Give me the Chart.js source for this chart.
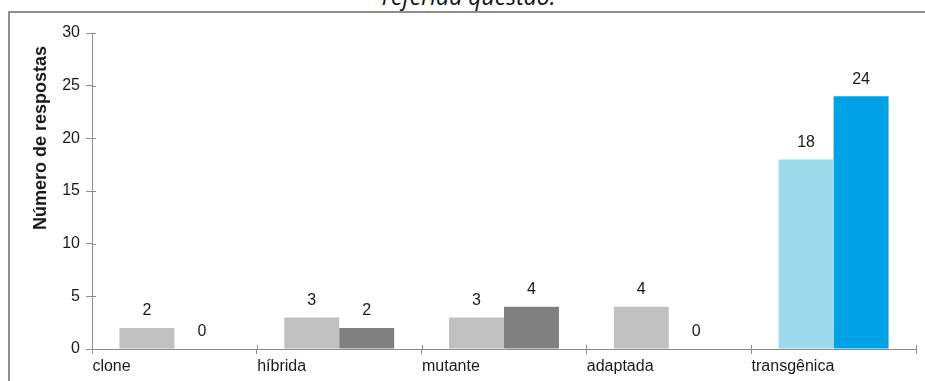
<!DOCTYPE html>
<html lang="pt">
<head>
<meta charset="utf-8">
<title>Número de respostas por categoria</title>
<script src="https://cdn.jsdelivr.net/npm/chart.js@4/dist/chart.umd.min.js"></script>
<style>
  html, body { margin: 0; padding: 0; background: #fff; }
  #page { position: relative; width: 925px; height: 381px; overflow: hidden; }
  #caption {
    position: absolute; left: 382px; top: -16px; white-space: nowrap;
    font-family: "Open Sans", sans-serif; font-style: italic;
    font-size: 23px; line-height: 24px; color: #111;
  }
  #frame {
    position: absolute; left: 8px; top: 11px; width: 940px; height: 400px;
    border-left: 2px solid #8f8f8f; border-top: 2px solid #8f8f8f;
  }
  #chart { position: absolute; left: 0; top: 0; }
</style>
</head>
<body>
<div id="page">
  <div id="caption">referida questão.</div>
  <div id="frame"></div>
  <canvas id="chart" width="925" height="381"></canvas>
</div>
<script>
// Categories and the two answer series
const categories = ['clone', 'híbrida', 'mutante', 'adaptada', 'transgênica'];
const seriesA = [2, 3, 3, 4, 18];
const seriesB = [0, 2, 4, 0, 24];

// Bar fills per category (the last category is highlighted in blue)
const colorsA = ['#c0c0c0', '#c0c0c0', '#c0c0c0', '#c0c0c0', '#9fd9ec'];
const colorsB = ['#808080', '#808080', '#808080', '#808080', '#00a2e6'];

const yMin = 0, yMax = 30, yStep = 5;
const yTitle = 'Número de respostas';

const axisColor = '#8c8c8c';
const textColor = '#1a1a1a';
const fontFamily = '"Liberation Sans", Arial, sans-serif';

// Value labels above every bar
const valueLabels = {
  id: 'valueLabels',
  afterDatasetsDraw(chart) {
    const ctx = chart.ctx;
    ctx.save();
    ctx.font = '16px ' + fontFamily;
    ctx.fillStyle = textColor;
    ctx.textAlign = 'center';
    ctx.textBaseline = 'middle';
    chart.data.datasets.forEach((ds, i) => {
      chart.getDatasetMeta(i).data.forEach((bar, j) => {
        ctx.fillText(String(ds.data[j]), bar.x, bar.y - 17);
      });
    });
    ctx.restore();
  }
};

// Tick marks that cross the axis lines, plus the rotated y title
const axisExtras = {
  id: 'axisExtras',
  afterDraw(chart) {
    const ctx = chart.ctx;
    const xs = chart.scales.x, ys = chart.scales.y;
    ctx.save();
    ctx.strokeStyle = axisColor;
    ctx.lineWidth = 1;
    ctx.beginPath();
    ys.ticks.forEach(t => {
      const y = Math.round(ys.getPixelForValue(t.value)) + 0.5;
      ctx.moveTo(xs.left, y);
      ctx.lineTo(xs.left + 4, y);
    });
    const n = categories.length;
    for (let i = 0; i <= n; i++) {
      const x = Math.round(xs.left + i * xs.width / n) + 0.5;
      ctx.moveTo(x, ys.bottom);
      ctx.lineTo(x, ys.bottom - 4);
    }
    ctx.stroke();

    ctx.translate(41, 138);
    ctx.rotate(-Math.PI / 2);
    ctx.font = 'bold 18px ' + fontFamily;
    ctx.fillStyle = textColor;
    ctx.textAlign = 'center';
    ctx.textBaseline = 'middle';
    ctx.fillText(yTitle, 0, 0);
    ctx.restore();
  }
};

new Chart(document.getElementById('chart'), {
  type: 'bar',
  data: {
    labels: categories,
    datasets: [
      { data: seriesA, backgroundColor: colorsA, borderWidth: 0,
        categoryPercentage: 0.667, barPercentage: 1 },
      { data: seriesB, backgroundColor: colorsB, borderWidth: 0,
        categoryPercentage: 0.667, barPercentage: 1 }
    ]
  },
  options: {
    responsive: false,
    animation: false,
    devicePixelRatio: 1,
    layout: { padding: { top: 33, right: 9, bottom: 0, left: 0 } },
    plugins: { legend: { display: false }, tooltip: { enabled: false } },
    scales: {
      x: {
        type: 'category',
        offset: true,
        afterFit(scale) { scale.height = 32; },
        grid: { offset: true, drawOnChartArea: false, tickLength: 5, color: axisColor },
        border: { color: axisColor, width: 1 },
        ticks: {
          align: 'start', labelOffset: -82, padding: 3,
          color: textColor, font: { size: 16, family: fontFamily }
        }
      },
      y: {
        min: yMin, max: yMax,
        afterFit(scale) { scale.width = 92; },
        grid: { drawOnChartArea: false, tickLength: 6, color: axisColor },
        border: { color: axisColor, width: 1 },
        ticks: {
          stepSize: yStep, padding: 6,
          color: textColor, font: { size: 16, family: fontFamily }
        }
      }
    }
  },
  plugins: [valueLabels, axisExtras]
});
</script>
</body>
</html>
